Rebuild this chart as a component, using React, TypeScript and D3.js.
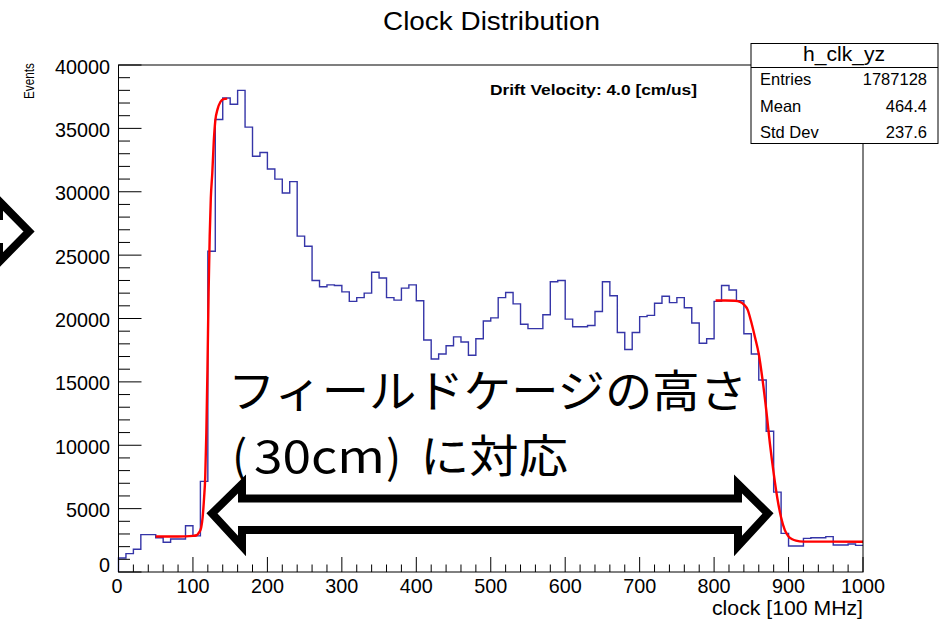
import React from "react";
import * as d3 from "d3";

// ---- data ----
const binLowEdges: number[] = d3.range(0, 1000, 10);
const counts: number[] = [
  1100, 1450, 1800, 2950, 2950, 2700, 2350, 2600, 2600, 3650,
  2850, 7150, 25300, 35700, 37400, 36900, 38000, 35100, 32800, 33100,
  31800, 31000, 29900, 30800, 26500, 25700, 23000, 22500, 22650, 22600,
  22100, 21350, 21650, 22000, 23650, 23200, 21650, 21450, 22400, 22650,
  21400, 18300, 16800, 17200, 17850, 18550, 18150, 17100, 18400, 19800,
  20050, 21650, 22050, 21150, 19550, 19200, 19200, 20300, 22900, 23000,
  19950, 19350, 19350, 19450, 20550, 22900, 21800, 18900, 17550, 18900,
  20150, 20250, 21200, 21750, 21250, 21650, 20850, 19650, 18050, 18400,
  21350, 22600, 22250, 21400, 18800, 17200, 15150, 11100, 6300, 3050,
  2050, 2050, 2650, 2700, 2700, 2790, 2130, 2130, 2210, 2100,
];
const fitLeftX: number[] = [50, 80, 100, 105, 108, 111, 113, 115, 116.5, 118, 119.5, 121, 122.5, 124, 126, 128, 130, 133, 137, 141, 146];
const fitLeftY: number[] = [2800, 2800, 2850, 2900, 3100, 3500, 4300, 5900, 7500, 11000, 16000, 22000, 26500, 29500, 31500, 34000, 35600, 36500, 37100, 37300, 37350];
const fitRightX: number[] = [802, 815, 828, 835, 840, 845, 850, 855, 860, 865, 870, 875, 880, 885, 890, 895, 900, 905, 910, 920, 1000];
const fitRightY: number[] = [21420, 21420, 21400, 21300, 21100, 20700, 19700, 18500, 17200, 15200, 12800, 10100, 7800, 5800, 4300, 3300, 2800, 2580, 2470, 2400, 2390];

const titleText = "Clock Distribution";
const xTitle = "clock [100 MHz]";
const yTitle = "Events";
const noteText = "Drift Velocity: 4.0 [cm/us]";
const statsName = "h_clk_yz";
const statsLabels = ["Entries", "Mean", "Std Dev"];
const statsValues = ["1787128", "464.4", "237.6"];
const jpLine1 = "フィールドケージの高さ";
const jpLine2Parts = ["(", "30cm", ")", "に対応"];

const W = 949, H = 620;
const FONT = "'Liberation Sans', Arial, Helvetica, sans-serif";
const JP = "'Noto Sans CJK JP', 'Noto Sans CJK SC', sans-serif";

export default function App() {
  const x = d3.scaleLinear().domain([0, 1000]).range([118.5, 863]);
  const y = d3.scaleLinear().domain([0, 40000]).range([572, 65]);

  const histPts: [number, number][] = [[0, 0]];
  binLowEdges.forEach((e, i) => histPts.push([e, counts[i]]));
  histPts.push([1000, counts[counts.length - 1]]);
  const histLine = d3
    .line<[number, number]>()
    .x((d) => x(d[0]))
    .y((d) => y(d[1]))
    .curve(d3.curveStepAfter);

  const fitLine = d3
    .line<[number, number]>()
    .x((d) => x(d[0]))
    .y((d) => y(d[1]))
    .curve(d3.curveMonotoneX);
  const leftPts = fitLeftX.map((v, i) => [v, fitLeftY[i]] as [number, number]);
  const rightPts = fitRightX.map((v, i) => [v, fitRightY[i]] as [number, number]);

  const xMajor = x.ticks(10);
  const xMinor = x.ticks(50).filter((t) => !xMajor.includes(t));
  const yMajor = y.ticks(8);
  const yMinor = y.ticks(40).filter((t) => !yMajor.includes(t));

  const [x0, x1] = x.range();
  const [y0, y1] = y.range();
  const rowY = [85, 112, 137.5];

  return (
    <svg
      width={W}
      height={H}
      style={{ position: "absolute", left: 0, top: 0, background: "#fff" }}
      fontFamily={FONT}
    >
      <rect x={0} y={0} width={W} height={H} fill="#fff" />
      {/* histogram */}
      <path d={histLine(histPts) || ""} fill="none" stroke="#3535a8" strokeWidth={1.4} />
      {/* fits */}
      <path d={fitLine(leftPts) || ""} fill="none" stroke="#ff0000" strokeWidth={2.4} />
      <path d={fitLine(rightPts) || ""} fill="none" stroke="#ff0000" strokeWidth={2.4} />

      {/* frame */}
      <rect x={x0} y={y1} width={x1 - x0} height={y0 - y1} fill="none" stroke="#000" strokeWidth={1} />

      {/* x axis ticks */}
      {xMajor.map((t) => (
        <line key={"xM" + t} x1={x(t)} x2={x(t)} y1={y0} y2={y0 - 15} stroke="#000" strokeWidth={1} />
      ))}
      {xMinor.map((t) => (
        <line key={"xm" + t} x1={x(t)} x2={x(t)} y1={y0} y2={y0 - 7.5} stroke="#000" strokeWidth={1} />
      ))}
      {xMajor.map((t) => (
        <text key={"xl" + t} x={x(t) - (t === 0 ? 1.5 : 0)} y={593} fontSize={19.8} textAnchor="middle" fill="#000">
          {t}
        </text>
      ))}
      {/* y axis ticks */}
      {yMajor.map((t) => (
        <line key={"yM" + t} x1={x0} x2={x0 + 23} y1={y(t)} y2={y(t)} stroke="#000" strokeWidth={1} />
      ))}
      {yMinor.map((t) => (
        <line key={"ym" + t} x1={x0} x2={x0 + 11.5} y1={y(t)} y2={y(t)} stroke="#000" strokeWidth={1} />
      ))}
      {yMajor.map((t) => (
        <text key={"yl" + t} x={110} y={t === 0 ? 571.5 : y(t) + 8.5} fontSize={19.8} textAnchor="end" fill="#000">
          {t}
        </text>
      ))}

      {/* titles */}
      <text x={491.5} y={30} fontSize={25} textAnchor="middle" fill="#000" textLength={217} lengthAdjust="spacingAndGlyphs">
        {titleText}
      </text>
      <text x={863} y={614.5} fontSize={20.5} textAnchor="end" fill="#000" textLength={151} lengthAdjust="spacingAndGlyphs">
        {xTitle}
      </text>
      <text
        transform="translate(34,63) rotate(-90)"
        fontSize={15}
        textAnchor="end"
        fill="#000"
        textLength={36}
        lengthAdjust="spacingAndGlyphs"
      >
        {yTitle}
      </text>
      <text x={490} y={94.5} fontSize={15} fontWeight="bold" fill="#000" textLength={207} lengthAdjust="spacingAndGlyphs">
        {noteText}
      </text>

      {/* stats box */}
      <rect x={751} y={43.5} width={187} height={100} fill="#fff" stroke="#000" strokeWidth={1} />
      <line x1={751} x2={938} y1={67.5} y2={67.5} stroke="#000" strokeWidth={1} />
      <text x={803} y={60.5} fontSize={19.5} fill="#000" textLength={82} lengthAdjust="spacingAndGlyphs">
        {statsName}
      </text>
      {statsLabels.map((l, i) => (
        <g key={l}>
          <text x={760} y={rowY[i]} fontSize={16.5} fill="#000">
            {l}
          </text>
          <text x={927} y={rowY[i]} fontSize={16.5} textAnchor="end" fill="#000">
            {statsValues[i]}
          </text>
        </g>
      ))}

      {/* annotation text */}
      <text x={228} y={407.5} fontSize={45} fontFamily={JP} fill="#000" textLength={519} lengthAdjust="spacingAndGlyphs">
        {jpLine1}
      </text>
      <text y={473} fontSize={45} fontFamily={JP} fill="#000">
        <tspan x={232}>{jpLine2Parts[0]}</tspan>
        <tspan x={254} textLength={131} lengthAdjust="spacingAndGlyphs">{jpLine2Parts[1]}</tspan>
        <tspan x={386}>{jpLine2Parts[2]}</tspan>
        <tspan x={420} textLength={148} lengthAdjust="spacingAndGlyphs">{jpLine2Parts[3]}</tspan>
      </text>

      {/* double arrow */}
      <path
        d="M242,484 L212,513.5 L242,546 L242,530 L738,530 L738,546 L768,513.5 L738,484 L738,498.5 L242,498.5 Z"
        fill="none"
        stroke="#000"
        strokeWidth={8}
        strokeLinejoin="miter"
        strokeMiterlimit={4}
      />
      {/* partial arrow head at left edge */}
      <path
        d="M-20,216 L-1,216 L-1,201 L29,231.5 L-1,262 L-1,247 L-20,247"
        fill="none"
        stroke="#000"
        strokeWidth={8}
        strokeLinejoin="miter"
        strokeMiterlimit={4}
      />
    </svg>
  );
}
